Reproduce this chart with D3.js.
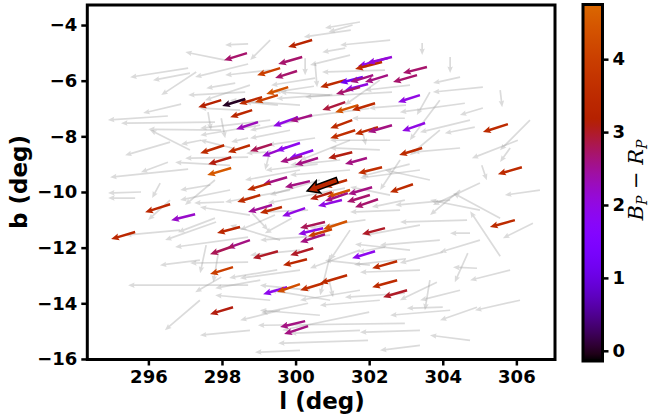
<!DOCTYPE html>
<html><head><meta charset="utf-8">
<script src="https://cdn.jsdelivr.net/npm/d3@7"></script>
<style>body{margin:0;background:#fff}</style>
</head><body><svg id="c" width="650" height="419"></svg>
<script>
// ---------- DATA ----------
// background (gray) stars: position (l, b) in deg, proper motion (pm_l, pm_b)
const grayL = [297.08,297.13,297.30,298.71,298.71,298.36,298.63,296.89,296.53,297.81,297.98,297.98,297.62,296.59,297.43,296.53,297.08,298.71,298.71,303.44,304.20,304.47,305.09,305.56,305.09,304.60,303.65,304.87,306.04,305.83,304.47,305.06,306.45,305.56,305.56,305.01,304.66,304.74,304.00,304.68,304.93,303.84,304.93,304.00,295.80,295.64,296.32,297.68,298.06,296.59,297.84,297.81,298.71,297.57,297.90,298.71,298.71,297.98,301.34,299.90,302.97,301.97,301.50,301.55,301.35,300.26,300.53,302.43,300.53,302.62,299.52,303.00,301.83,302.97,300.53,299.20,300.12,301.21,303.38,304.20,302.84,303.92,301.75,303.38,302.29,300.94,299.58,304.47,300.91,300.34,302.97,302.00,302.97,300.34,302.43,298.82,299.31,298.22,299.31,297.40,298.76,303.38,304.74,303.92,302.29,301.48,300.12,300.66,298.49,304.47,306.37,306.64,305.83,306.10,302.57,301.75,299.31,303.38,300.12,301.00,302.00,300.60,303.10,301.90,303.00,299.50,300.50,
  300.94,303.11,299.85,303.92,301.48,305.01,303.38,302.02,300.94,299.58,299.04,304.20,301.75,302.84,300.12,302.57,299.31,301.48,298.49,297.40,303.65,305.01,300.39,302.57,299.44,
  300.12,299.04,298.22,299.85,298.76,300.94,300.12,299.31,301.75,303.11,301.48,303.65,297.81,296.86,297.13,300.66,304.74,302.29,298.76,298.09];
const grayB = [-5.55,-5.73,-5.69,-5.40,-4.68,-6.09,-6.41,-6.84,-7.27,-7.49,-7.78,-7.35,-7.13,-8.21,-8.14,-8.93,-9.18,-8.75,-8.06,-4.65,-5.15,-5.87,-6.23,-6.34,-6.98,-6.81,-6.41,-7.67,-8.14,-8.42,-8.42,-9.04,-11.12,-12.31,-10.94,-9.68,-11.01,-11.48,-12.16,-12.20,-12.74,-13.24,-14.14,-14.14,-10.00,-10.22,-9.68,-9.75,-10.36,-10.29,-11.08,-10.94,-11.62,-11.91,-12.20,-12.52,-13.35,-13.06,-9.86,-10.94,-14.72,-15.33,-4.18,-4.00,-4.83,-5.19,-5.37,-5.62,-5.91,-6.41,-6.88,-6.88,-7.89,-7.35,-8.06,-8.57,-7.42,-8.85,-9.21,-10.29,-10.65,-11.73,-12.09,-12.81,-13.89,-13.89,-14.25,-13.53,-13.17,-14.00,-13.64,-14.32,-10.29,-10.65,-11.98,-10.76,-7.42,-9.93,-8.49,-13.89,-14.97,-14.97,-15.33,-6.70,-8.49,-11.37,-12.09,-9.57,-7.06,-9.93,-7.42,-9.93,-12.81,-13.89,-4.54,-3.89,-4.54,-15.51,-15.69,-6.50,-7.00,-9.00,-9.00,-11.00,-12.40,-12.80,-6.20,
  -6.52,-6.16,-7.78,-7.78,-9.21,-10.65,-11.19,-12.63,-12.27,-11.73,-13.17,-14.25,-14.97,-8.85,-9.21,-8.14,-5.62,-5.08,-8.49,-12.45,-13.17,-11.73,-13.53,-10.11,-10.83,
  -6.88,-7.60,-9.04,-9.93,-10.83,-11.55,-12.81,-13.89,-13.53,-12.09,-8.14,-9.57,-9.57,-11.37,-8.49,-14.43,-7.42,-5.98,-6.16,-5.26];
const grayPmL = [-14.5,-9.25,-8.75,-13.25,-5.75,-7.25,-14.25,-9.5,-15,-23.5,-18.25,1,0.75,-11.25,-5,-6.75,-19.5,-15.75,-4.25,0,0,-6.75,-12.5,0.5,-5.75,-16.25,-3.25,-7.5,-11.5,-2.5,-11.75,1.25,-7.5,-7.5,-11.75,-11.75,-16.75,-5,-10.75,-3.25,-6,-9.25,-9.25,-9,-8.25,-6.75,-2,-7.5,-7.5,-5.5,-12.75,-9.25,-18.25,-1.5,-1.25,-14.5,-30,-6.5,-19.25,-6.75,-36.75,-22.5,-11.75,-6,-5.75,0,0.5,-15.75,-11,-21.75,-8.25,-9.25,0.75,-13.25,-11.75,-5,-12.5,-12.5,-15,-13.75,-12.5,-15,-12.5,-15,-15,-15,-10,-10,1,-11.75,-15,-21.75,-8.25,-11.75,-6.75,4,-17.5,-12.5,-1.25,-8.75,-12.5,-15,-10,-7.5,-12.5,-5,-12.5,-12.5,-10,-7.5,-7.5,-8.75,-10,-11.25,-12.5,-8.75,-5,-10,-11.25,-14,-16,-13,-12,-14,-13,-12,-10,
  -12.5,-11.25,-10,-7.5,-15,-12.5,-13.75,-11.25,-2.5,-12.5,-11.25,-15,-17.5,-5,-13.75,-15,-11.25,-10,-10,-10,-1.25,-10,-12.5,-10,-8.75,
  -17.5,-15,-13.75,-16.25,-12.5,-17.5,-15,-13.75,-15,-13.75,-12.5,-11.25,-7.5,-13.75,-10,-15,-12.5,-8.75,-11.25,-10];
const grayPmB = [-2.25,-1.75,-5.75,-3.25,-0.25,-1.25,-0.75,-2.25,-1,-0.25,0.25,-5,-4.5,-3.25,-1,-2.5,-2,-0.25,-1,-3,-4,-1.5,-1.25,-4.25,-1.75,-2.25,-5.75,-1.5,-4.5,-3.5,-1,-3.75,-3.75,11.25,6.25,-5.5,-0.5,0,-2.75,-7.25,0.25,-4.5,-3.25,-0.25,-0.25,0,-3.75,-1.25,-0.25,-5,-4.5,-3.5,-2.5,-7,-7.25,-0.25,0,-3.75,-3.75,-3.75,-0.5,-0.75,-1.75,-1.75,-1,-4.25,-6,-0.5,-1.75,-1.25,0.75,-0.75,-3,0,-1.75,-0.25,-2.5,-1.25,-2,-1.25,-0.5,-1.25,-4.5,-0.5,-1.25,2.5,-2.5,-2.5,-4.25,-2.5,-1,-4.5,-1.75,-0.5,-1.25,-4.25,-2,-2.5,-5,-7.5,-1.25,-0.5,1.25,-10,0.5,-7.5,-1.25,-3.75,0.5,-6.25,-7.5,-1.25,-2.5,-2.5,-1.25,-1.5,-5,-1.25,-0.5,-1,-2,-1.5,-3,-2,-1.5,-2,-1.5,
  0.75,-1.25,-2,-6.25,-1.25,2.5,-2.5,1.25,-10,3.75,-2,-1.25,-0.75,-7.5,-2.5,0,-1.25,-2.5,2.5,-1.25,-7.5,-3,1.25,2,-3.75,
  1.25,-2.5,0.75,-3,2,-1.25,-2,1.25,-2.5,1.5,-5,2.5,-6.25,-1.25,5,1.25,-3,-6.25,-3.75,2];

// member stars: position, proper motion and colour BP-RP
const memL = [298.68,300.45,300.18,299.58,300.04,299.80,299.52,299.09,298.63,297.98,298.82,298.98,300.07,300.45,298.06,298.76,298.25,298.25,299.36,299.77,300.12,300.48,300.18,300.61,301.35,301.83,302.11,301.97,301.75,302.51,302.51,302.35,302.62,303.57,303.30,303.38,301.35,301.70,302.16,301.54,301.62,302.24,302.62,303.52,305.77,303.44,306.15,301.54,301.94,302.35,299.77,299.31,300.39,299.04,299.36,299.63,300.26,300.99,301.48,301.40,301.42,301.26,302.08,302.02,302.24,303.19,300.80,301.40,300.75,300.99,300.80,302.43,298.49,298.76,298.30,299.52,300.48,300.31,302.16,302.76,298.30,299.77,300.12,300.75,301.40,302.76,303.03,298.30,300.26,300.34,296.59,297.27,295.64,305.96];
const memB = [-5.01,-4.54,-5.15,-5.55,-5.65,-6.23,-6.52,-6.59,-6.66,-6.70,-7.06,-7.49,-7.31,-7.24,-8.32,-8.32,-8.75,-9.14,-8.28,-8.39,-8.24,-8.50,-8.71,-8.78,-5.98,-5.87,-5.80,-6.12,-6.23,-5.80,-5.19,-5.33,-5.15,-5.51,-5.80,-6.52,-6.77,-6.88,-6.81,-7.42,-7.78,-7.67,-7.60,-7.52,-7.56,-8.42,-9.11,-8.57,-8.78,-9.11,-9.47,-9.68,-9.61,-10.11,-10.47,-10.54,-10.58,-10.01,-9.93,-9.57,-10.04,-10.29,-9.83,-10.11,-10.26,-9.72,-11.08,-11.05,-11.30,-11.34,-11.52,-11.30,-11.26,-11.73,-11.95,-12.13,-12.02,-12.42,-12.13,-12.49,-12.70,-13.42,-13.31,-13.28,-12.99,-13.17,-13.53,-14.14,-14.64,-14.82,-10.44,-10.80,-11.44,-11.01];
const memPmL = [-5.75,-6,-6,-5.75,-5.5,-5.5,-5.75,-5.75,-5.75,-5.75,-5.5,-5.5,-6.25,-5.5,-6,-5.5,-5.75,-6,-5.5,-6.25,-6,-6,-5.5,-5.75,-6.25,-5.75,-5.75,-5.75,-6,-5.75,-7.5,-6.75,-6.25,-6,-6,-5.5,-5.75,-5.75,-5.75,-5.5,-6.25,-5.75,-6,-5.75,-6.25,-5.75,-6,-6,-5.5,-6,-6,-5.75,-6.25,-5.75,-6,-5.5,-5.75,-5.5,-5.75,-5.75,-5.75,-6,-6,-5.75,-5.75,-5.75,-6.25,-6,-6.25,-6,-6.25,-5.75,-5.75,-5.75,-5.75,-6.25,-5.75,-6,-5.75,-6.25,-5.75,-6,-5.75,-5.75,-6.75,-6.25,-6,-5.75,-6.25,-6,-6.25,-6,-6,-6.25];
const memPmB = [-1.75,-1.75,-1.75,-1.75,-1.75,-1.75,-1.75,-1.75,-1.75,-1.75,-1.75,-1.75,-2.25,-1.5,-2,-1.75,-1.75,-1.75,-1.75,-2.25,-2,-2,-1.5,-1.75,-1.75,-1.5,-1.75,-1.5,-1.75,-1.75,-2,-1.75,-1.5,-1.5,-1.75,-1.75,-2,-1.75,-1.75,-2,-2,-1.75,-1.75,-2,-2,-1.75,-1.75,-1.5,-1.5,-1.5,-1.75,-1.75,-1.5,-1.75,-1.75,-1.5,-2,-1.75,-1.75,-1.75,-2,-1.5,-1.75,-1.75,-2,-2,-1.5,-2,-1.5,-1.75,-2,-1.5,-1.5,-2,-2,-1.75,-1.75,-1.5,-1.75,-1.75,-1.75,-1.75,-2,-1.75,-2,-1.75,-1.75,-1.75,-1.5,-2,-2,-1.5,-1.75,-1.75];
const memColor = [2.7,3.3,2.7,4.0,2.7,4.4,4.0,3.5,0.0,3.2,3.4,2.3,2.0,2.6,3.5,3.5,3.1,4.5,2.8,2.2,1.9,1.9,2.6,2.6,3.5,1.2,2.6,2.0,2.7,2.6,1.9,3.5,2.1,2.7,2.7,2.0,2.9,4.4,3.5,3.5,3.6,3.5,2.6,2.0,3.5,3.5,3.5,3.1,2.6,3.6,2.6,3.5,2.6,3.5,2.5,3.5,2.0,3.1,4.4,3.5,2.6,2.0,2.6,2.7,2.7,3.5,2.8,4.4,2.0,4.0,2.6,3.0,3.4,2.6,2.8,3.0,3.0,3.4,1.9,3.5,4.0,1.9,4.3,3.6,3.5,3.5,3.0,3.1,2.6,2.6,3.4,2.2,3.4,3.5];

// cluster mean motion
const meanL = [301.13], meanB = [-9.57], meanPmL = [-7.5], meanPmB = [-2.75], meanColor = [3.4];

const xTicks = [296,298,300,302,304,306];
const yTicks = [-4,-6,-8,-10,-12,-14,-16];
const cTicks = [0,1,2,3,4];
const colorRange = [-0.14, 4.75];

// ---------- CHART ----------
const svg = d3.select('#c');
const plot = {left:87.3, right:555, top:5, bottom:359.5};
const x = d3.scaleLinear().domain([294.34,307.05]).range([plot.left, plot.right]);
const y = d3.scaleLinear().domain([-16.02,-3.28]).range([plot.bottom, plot.top]);
const pmScale = 4; // px per (mas/yr)

function gnuplot(t){
  t = Math.max(0, Math.min(1, t));
  const r = Math.sqrt(t), g = t*t*t, b = Math.max(0, Math.sin(2*Math.PI*t));
  return d3.rgb(r*255, g*255, b*255).formatHex();
}
const cmap = v => gnuplot((v - colorRange[0]) / 6.6);

function arrowPath(x0, y0, dx, dy, w, hw, hl, ha){
  const L = Math.hypot(dx, dy);
  if (L === 0) return '';
  const ux = dx/L, uy = dy/L, nx = -uy, ny = ux;
  if (L < hl){ const s = L/hl; hl*=s; ha*=s; hw*=s; w*=s; }
  const tx = x0+dx, ty = y0+dy;
  const bx = tx-ux*hl, by = ty-uy*hl;
  const ax = tx-ux*ha, ay = ty-uy*ha;
  const p = [
    [x0+nx*w/2, y0+ny*w/2],[ax+nx*w/2, ay+ny*w/2],[bx+nx*hw/2, by+ny*hw/2],
    [tx, ty],[bx-nx*hw/2, by-ny*hw/2],[ax-nx*w/2, ay-ny*w/2],[x0-nx*w/2, y0-ny*w/2]];
  return 'M' + p.map(q => q[0].toFixed(2)+','+q[1].toFixed(2)).join('L') + 'Z';
}

svg.append('defs').append('clipPath').attr('id','clip')
  .append('rect').attr('x',plot.left).attr('y',plot.top)
  .attr('width',plot.right-plot.left).attr('height',plot.bottom-plot.top);

const g = svg.append('g').attr('clip-path','url(#clip)');

// gray arrows
g.append('g').selectAll('path').data(d3.range(grayL.length)).join('path')
  .attr('d', i => arrowPath(x(grayL[i]), y(grayB[i]), grayPmL[i]*pmScale, -grayPmB[i]*pmScale, 1.7, 5.5, 6.5, 5.8))
  .attr('fill', '#9a9a9a').attr('fill-opacity', 0.36);

// member arrows
g.append('g').selectAll('path').data(d3.range(memL.length)).join('path')
  .attr('d', i => arrowPath(x(memL[i]), y(memB[i]), memPmL[i]*pmScale, -memPmB[i]*pmScale, 2.5, 7, 8, 7))
  .attr('fill', i => cmap(memColor[i]));

// mean arrow
g.append('g').selectAll('path').data(d3.range(meanL.length)).join('path')
  .attr('d', i => arrowPath(x(meanL[i]), y(meanB[i]), meanPmL[i]*pmScale, -meanPmB[i]*pmScale, 5.5, 13, 12, 10.5))
  .attr('fill', i => cmap(meanColor[i])).attr('stroke','#000').attr('stroke-width',1.5).attr('stroke-linejoin','miter');

// axes
const fontTick = 'bold 18px "DejaVu Sans", sans-serif';
const xAxis = svg.append('g').attr('transform',`translate(0,${plot.bottom})`)
  .call(d3.axisBottom(x).tickValues(xTicks).tickSize(6).tickPadding(5).tickFormat(d3.format('d')));
const yAxis = svg.append('g').attr('transform',`translate(${plot.left},0)`)
  .call(d3.axisLeft(y).tickValues(yTicks).tickSize(6).tickPadding(4));
[xAxis, yAxis].forEach(a => {
  a.select('.domain').remove();
  a.selectAll('.tick line').attr('stroke','#000').attr('stroke-width',2.5);
  a.selectAll('.tick text').style('font', fontTick).attr('fill','#000');
});

// frame
svg.append('rect').attr('x',plot.left).attr('y',plot.top)
  .attr('width',plot.right-plot.left).attr('height',plot.bottom-plot.top)
  .attr('fill','none').attr('stroke','#000').attr('stroke-width',3);

svg.append('text').attr('x',322).attr('y',409).attr('text-anchor','middle')
  .style('font','bold 23px "DejaVu Sans", sans-serif').text('l (deg)');
svg.append('text').attr('transform','translate(27,182) rotate(-90)').attr('text-anchor','middle')
  .style('font','bold 23px "DejaVu Sans", sans-serif').text('b (deg)');

// colorbar
const cb = {left:583, right:602.5, top:4.5, bottom:361};
const cy = d3.scaleLinear().domain(colorRange).range([cb.bottom, cb.top]);
const grad = svg.select('defs').append('linearGradient').attr('id','cgrad')
  .attr('x1',0).attr('y1',1).attr('x2',0).attr('y2',0);
d3.range(0, 1.0001, 0.02).forEach(t => {
  grad.append('stop').attr('offset', t).attr('stop-color', cmap(colorRange[0] + t*(colorRange[1]-colorRange[0])));
});
svg.append('rect').attr('x',cb.left).attr('y',cb.top).attr('width',cb.right-cb.left)
  .attr('height',cb.bottom-cb.top).attr('fill','url(#cgrad)').attr('stroke','#000').attr('stroke-width',3);
const cAxis = svg.append('g').attr('transform',`translate(${cb.right},0)`)
  .call(d3.axisRight(cy).tickValues(cTicks).tickSize(6).tickPadding(4).tickFormat(d3.format('d')));
cAxis.select('.domain').remove();
cAxis.selectAll('.tick line').attr('stroke','#000').attr('stroke-width',2.5);
cAxis.selectAll('.tick text').style('font', fontTick).attr('fill','#000');

const cl = svg.append('text').attr('transform','translate(643,180) rotate(-90)').attr('text-anchor','middle')
  .style('font','italic 21px "DejaVu Serif", serif');
cl.append('tspan').text('B');
cl.append('tspan').attr('dy',4).style('font-size','14px').text('P');
cl.append('tspan').attr('dy',-4).style('font-style','normal').text(' − ');
cl.append('tspan').text('R');
cl.append('tspan').attr('dy',4).style('font-size','14px').text('P');
</script>
</body></html>
